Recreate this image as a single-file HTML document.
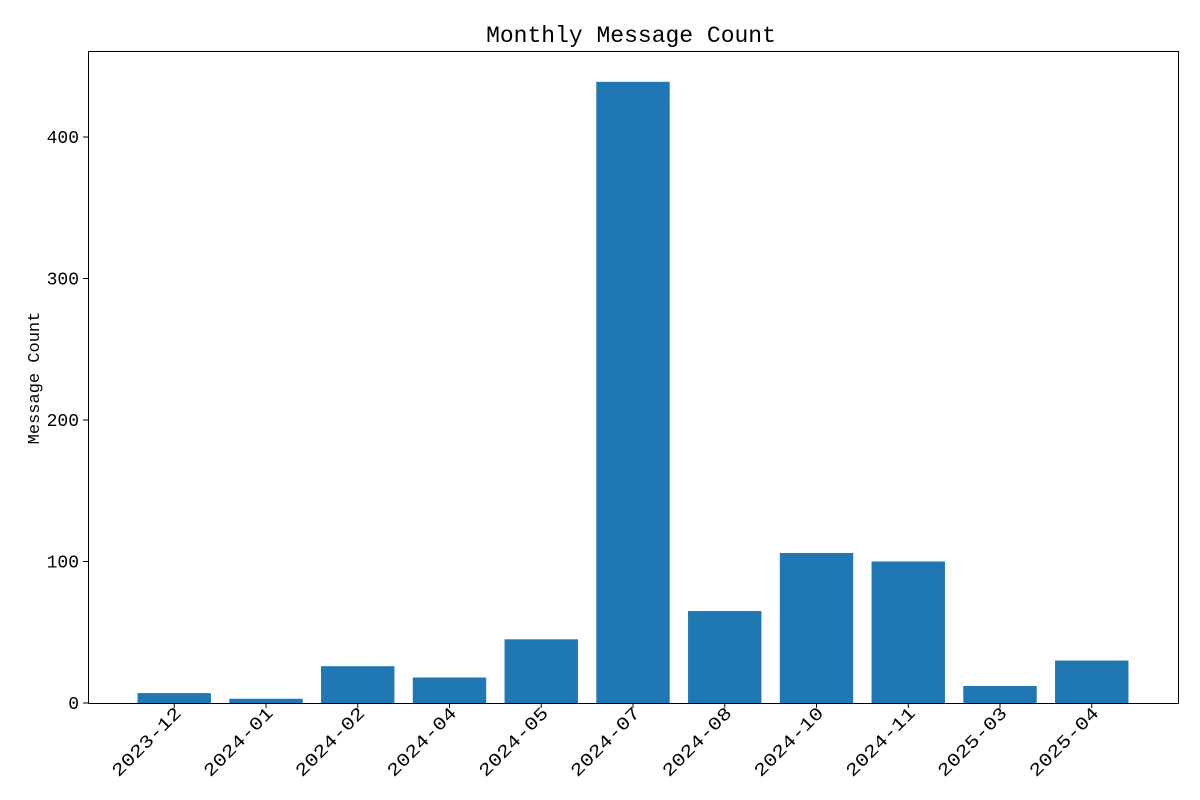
<!DOCTYPE html>
<html><head><meta charset="utf-8"><style>
body{margin:0;background:#fff;}
svg{display:block;font-family:"Liberation Mono","Noto Sans CJK SC",monospace;}
</style></head><body>
<svg id="chart" width="1200" height="800" viewBox="0 0 1200 800" xmlns="http://www.w3.org/2000/svg">
<rect width="1200" height="800" fill="#fff"/>
<text x="631" y="42" text-anchor="middle" font-size="23" fill="#000">Monthly Message Count</text>
<text transform="translate(39,378) rotate(-90)" text-anchor="middle" font-size="17" fill="#000">Message Count</text>
<g id="bars"></g><g id="axes"></g>
<rect x="88.5" y="51.5" width="1090" height="652" fill="none" stroke="#000" stroke-width="1"/>
</svg>
<script>
const categories = ["2023-12","2024-01","2024-02","2024-04","2024-05","2024-07","2024-08","2024-10","2024-11","2025-03","2025-04"];
const counts = [7, 3, 26, 18, 45, 439, 65, 106, 100, 12, 30];
const yTicks = [0, 100, 200, 300, 400];

const L=88, R=1178, T=51, B=703;
const xmin=-0.94, xmax=categories.length-1+0.94;
const yPerUnit=141.5/100;
const x = i => L + (i - xmin)/(xmax - xmin)*(R-L);
const y = v => B - v*yPerUnit;
const ns="http://www.w3.org/2000/svg";
const bars=document.getElementById('bars'), axes=document.getElementById('axes');
const bw=0.8*(R-L)/(xmax-xmin);
function mk(tag, attrs, parent){const e=document.createElementNS(ns,tag);for(const k in attrs)e.setAttribute(k,attrs[k]);parent.appendChild(e);return e;}
categories.forEach((c,i)=>{
  const r=mk('rect',{x:x(i)-bw/2,y:y(counts[i]),width:bw,height:B-y(counts[i]),fill:'#1f77b4'},bars);
  
  
  const t=mk('line',{x1:x(i),x2:x(i),y1:B,y2:B+5,stroke:'#000'},axes);
  
  
  const lb=mk('text',{transform:`translate(${x(i)+8},${B+11}) rotate(-45)`,'text-anchor':'end','font-size':18,textLength:90,lengthAdjust:'spacingAndGlyphs',fill:'#000'},axes);
  lb.textContent=c;
  
  
});
yTicks.forEach(v=>{
  const t=mk('line',{x1:L-5,x2:L,y1:y(v),y2:y(v),stroke:'#000'},axes);
  
  
  const lb=mk('text',{x:L-9,y:y(v)+6,'text-anchor':'end','font-size':18,fill:'#000'},axes);
  lb.textContent=v;
  
  
});
</script>
</body></html>
